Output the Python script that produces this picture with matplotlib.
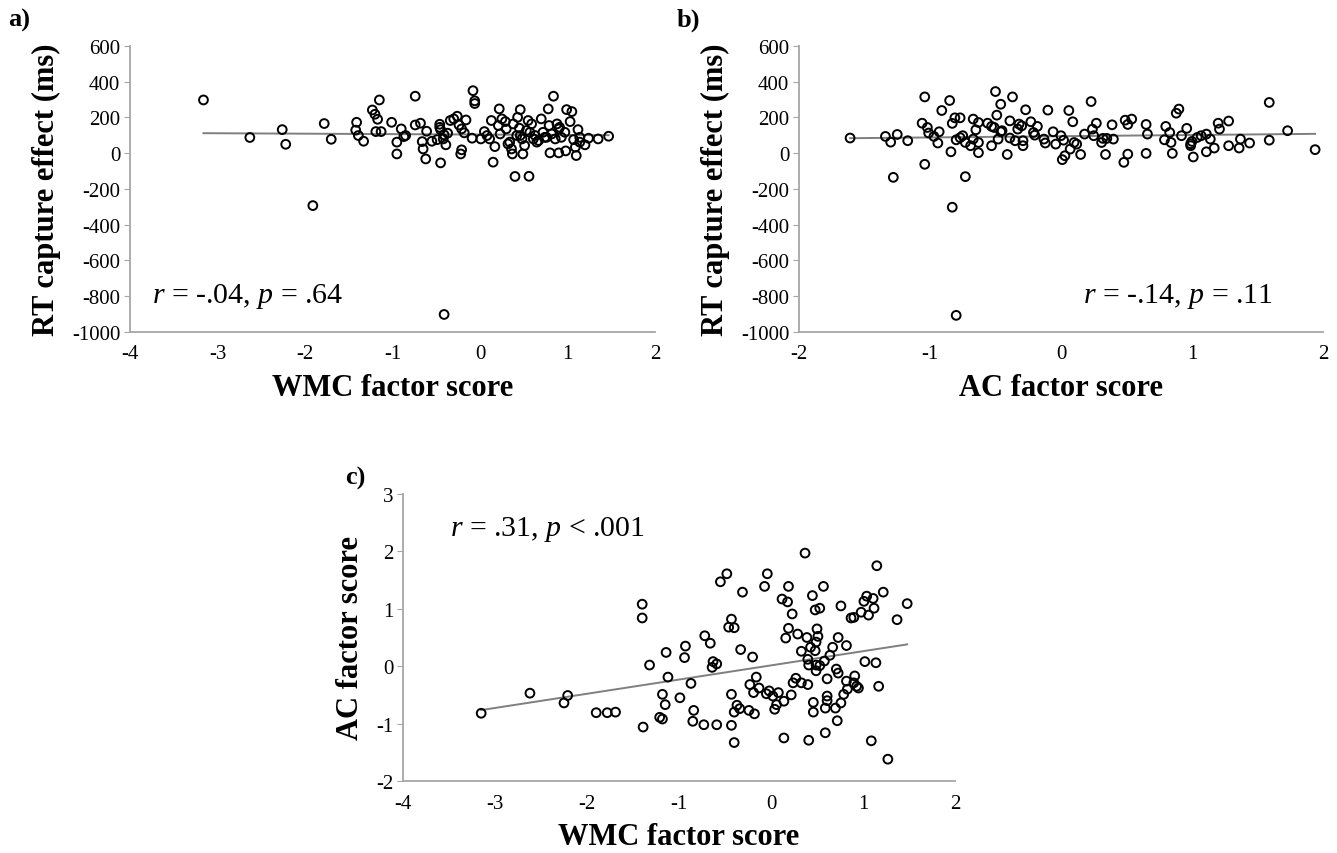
import numpy as np
import matplotlib
matplotlib.use("Agg")
import matplotlib.pyplot as plt

plt.rcParams['font.family'] = ['Liberation Serif', 'DejaVu Serif']
plt.rcParams['mathtext.fontset'] = 'custom'
plt.rcParams['mathtext.rm'] = 'Liberation Serif'
plt.rcParams['mathtext.it'] = 'Liberation Serif:italic'
plt.rcParams['axes.unicode_minus'] = False

# panel a: WMC factor score vs RT capture effect
wmc_a = [-3.16, -2.63, -2.26, -2.22, -1.91, -1.78, -1.70, -1.41, -1.42, -1.39,
         -1.33, -1.23, -1.20, -1.17, -1.15, -1.19, -1.13, -1.01, -0.95, -0.95,
         -0.90, -0.85, -0.87, -0.74, -0.74, -0.68, -0.61, -0.66, -0.65, -0.62,
         -0.55, -0.49, -0.46, -0.46, -0.45, -0.45, -0.42, -0.39, -0.41, -0.37,
         -0.34, -0.30, -0.26, -0.24, -0.21, -0.18, -0.16, -0.21, -0.22, -0.41,
         -0.08, -0.06, -0.06, -0.09, 0.01, 0.05, 0.08, 0.13, 0.15, 0.17,
         0.22, 0.21, 0.23, 0.25, 0.29, 0.30, 0.32, 0.36, 0.37, 0.40,
         0.38, 0.43, 0.46, 0.45, 0.46, 0.48, 0.49, 0.51, 0.55, 0.56,
         0.57, 0.59, 0.61, 0.65, 0.67, 0.70, 0.72, 0.74, 0.78, 0.79,
         0.80, 0.84, 0.86, 0.88, 0.90, 0.90, 0.93, 0.97, 0.98, 0.99,
         1.05, 1.03, 1.07, 1.09, 1.10, 1.12, 1.14, 1.20, 1.24, 1.35,
         1.47, 0.76, 0.63, 0.53, 0.42, 0.11, 0.34, 0.82, 0.91, 1.14]
rt_a = [298, 88, 132, 50, -293, 166, 78, 173, 129, 99,
        67, 242, 218, 190, 298, 121, 121, 173, 62, -4,
        136, 99, 93, 319, 158, 168, 123, 65, 24, -32,
        67, 76, 162, 145, 132, -54, 80, 47, 103, 112,
        183, 192, 207, 158, 136, 114, 186, 19, -4, -902,
        350, 293, 278, 84, 80, 121, 99, 183, -50, 37,
        248, 155, 108, 192, 177, 136, 52, 24, -4, -130,
        164, 201, 244, 140, 99, 80, -4, 43, 183, -129,
        117, 164, 80, 62, 71, 192, 117, 89, 248, 155,
        2, 319, 80, 164, 2, 136, 89, 117, 13, 244,
        233, 177, 76, 34, -13, 132, 62, 47, 84, 80,
        95, 89, 99, 127, 99, 80, 62, 108, 145, 89]

# panel b: AC factor score vs RT capture effect
ac_b = [-1.61, -1.34, -1.30, -1.25, -1.17, -1.28, -1.06, -1.04, -1.02, -1.01,
        -1.04, -0.97, -0.94, -0.93, -0.91, -0.85, -0.83, -0.84, -0.81, -0.77,
        -0.80, -0.77, -0.75, -0.73, -0.73, -0.83, -0.80, -0.69, -0.67, -0.67,
        -0.65, -0.63, -0.63, -0.63, -0.56, -0.53, -0.53, -0.51, -0.50, -0.49,
        -0.48, -0.46, -0.46, -0.45, -0.41, -0.39, -0.39, -0.37, -0.35, -0.33,
        -0.32, -0.30, -0.29, -0.29, -0.27, -0.23, -0.21, -0.20, -0.18, -0.13,
        -0.12, -0.10, -0.06, -0.04, 0.00, 0.02, 0.01, 0.03, 0.06, 0.07,
        0.09, 0.10, 0.12, 0.15, 0.18, 0.23, 0.24, 0.25, 0.27, 0.31,
        0.32, 0.34, 0.35, 0.39, 0.40, 0.48, 0.49, 0.51, 0.51, 0.54,
        0.65, 0.65, 0.66, 0.79, 0.80, 0.83, 0.84, 0.85, 0.88, 0.90,
        0.92, 0.96, 0.99, 1.00, 1.01, 1.04, 1.07, 1.11, 1.11, 1.14,
        1.17, 1.20, 1.21, 1.28, 1.28, 1.36, 1.37, 1.44, 1.59, 1.59,
        1.73, 1.94, 0.99]
rt_b = [85, 94, 62, 105, 70, -135, 168, 315, 144, 113,
        -62, 94, 57, 120, 239, 295, 167, 8, 198, 198,
        75, 87, 98, 60, -131, -302, -907, 42, 79, 191,
        131, 172, 60, 3, 168, 150, 42, 144, 345, 213,
        79, 120, 274, 126, -7, 181, 85, 315, 70, 135,
        163, 153, 42, 70, 243, 176, 116, 101, 150, 79,
        57, 241, 120, 51, 98, 73, -36, -14, 239, 23,
        176, 60, 51, -7, 107, 289, 135, 98, 168, 60,
        83, -7, 83, 159, 79, -51, 185, -5, 161, 191,
        -1, 161, 107, 75, 150, 116, 60, -1, 224, 247,
        98, 139, 42, 66, -21, 88, 98, 107, 8, 79,
        29, 168, 135, 180, 42, 29, 79, 57, 284, 73,
        126, 20, 53]

# panel c: WMC factor score vs AC factor score
wmc_c = [-3.15, -2.62, -2.25, -2.21, -1.90, -1.78, -1.69, -1.40, -1.40, -1.39,
         -1.32, -1.21, -1.18, -1.18, -1.15, -1.14, -1.12, -0.99, -0.94, -0.93,
         -0.87, -0.85, -0.84, -0.73, -0.72, -0.66, -0.64, -0.63, -0.59, -0.59,
         -0.55, -0.48, -0.46, -0.43, -0.40, -0.43, -0.43, -0.40, -0.40, -0.37,
         -0.34, -0.33, -0.31, -0.24, -0.23, -0.20, -0.19, -0.18, -0.16, -0.13,
         -0.07, -0.04, -0.05, -0.02, 0.02, 0.04, 0.06, 0.08, 0.14, 0.14,
         0.12, 0.18, 0.19, 0.19, 0.16, 0.23, 0.22, 0.24, 0.27, 0.29,
         0.33, 0.33, 0.37, 0.39, 0.40, 0.41, 0.40, 0.41, 0.43, 0.45,
         0.46, 0.46, 0.48, 0.48, 0.49, 0.50, 0.51, 0.49, 0.49, 0.53,
         0.53, 0.57, 0.58, 0.59, 0.59, 0.61, 0.61, 0.61, 0.64, 0.67,
         0.70, 0.71, 0.72, 0.73, 0.73, 0.76, 0.76, 0.79, 0.82, 0.82,
         0.83, 0.87, 0.90, 0.90, 0.91, 0.93, 0.95, 0.98, 1.01, 1.02,
         1.04, 1.06, 1.09, 1.11, 1.12, 1.14, 1.15, 1.17, 1.22, 1.27,
         1.37, 1.48]
ac_c = [-0.82, -0.47, -0.64, -0.51, -0.81, -0.81, -0.80, 1.08, 0.84, -1.06,
        0.02, -0.89, -0.92, -0.49, -0.67, 0.24, -0.19, -0.55, 0.15, 0.35,
        -0.30, -0.96, -0.77, -1.02, 0.53, 0.40, -0.02, 0.08, 0.04, -1.02,
        1.47, 1.61, 0.68, 0.82, 0.67, -0.49, -1.03, -1.33, -0.80, -0.68,
        -0.74, 0.29, 1.29, -0.77, -0.32, 0.16, -0.46, -0.83, -0.19, -0.38,
        1.39, 1.61, -0.48, -0.43, -0.52, -0.75, -0.67, -0.46, -0.61, -1.25,
        1.17, 1.12, 1.39, 0.66, 0.49, 0.91, -0.50, -0.29, -0.21, 0.56,
        0.26, -0.29, 1.97, 0.50, 0.12, 0.02, -0.32, -1.29, 0.33, 1.23,
        -0.80, -0.63, 0.98, 0.27, 0.42, 0.65, 0.52, 0.02, -0.08, 1.01,
        0.01, 1.39, 0.09, -1.16, -0.73, -0.22, -0.52, -0.60, 0.19, 0.33,
        -0.73, -0.05, -0.95, -0.12, 0.50, -0.64, 1.05, -0.49, 0.36, -0.26,
        -0.40, 0.84, 0.85, -0.29, -0.17, -0.35, -0.38, 0.94, 1.13, 0.08,
        1.22, 0.89, -1.30, 1.18, 1.01, 0.06, 1.75, -0.35, 1.29, -1.62,
        0.81, 1.09]

stats_a = r'$r$ = -.04, $p$ = .64'
stats_b = r'$r$ = -.14, $p$ = .11'
stats_c = r'$r$ = .31, $p$ < .001'

spine_col = '#a6a6a6'
line_col = '#7f7f7f'


def scatter_panel(ax, x, y, xlim, ylim, yticks, xlabel, ylabel):
    x = np.array(x)
    y = np.array(y)
    ax.scatter(x, y, s=40, facecolors='none', edgecolors='black',
               linewidths=1.4, zorder=3)
    # least squares trend line over the data range
    slope, icpt = np.polyfit(x, y, 1)
    xs = np.array([x.min(), x.max()])
    ax.plot(xs, slope * xs + icpt, color=line_col, lw=1.4, zorder=2)
    ax.set_xlim(*xlim)
    ax.set_ylim(*ylim)
    ax.set_xticks(np.arange(xlim[0], xlim[1] + 1, 1))
    ax.set_yticks(yticks)
    for s in ['top', 'right']:
        ax.spines[s].set_visible(False)
    for s in ['left', 'bottom']:
        ax.spines[s].set_color(spine_col)
        ax.spines[s].set_linewidth(1.3)
    ax.tick_params(axis='y', length=4, color=spine_col, labelsize=15, pad=3)
    ax.tick_params(axis='x', length=0, labelsize=15, pad=9)
    ax.set_xlabel(xlabel, fontsize=22, fontweight='bold', labelpad=7)
    ax.set_ylabel(ylabel, fontsize=22, fontweight='bold', labelpad=8)


fig = plt.figure(figsize=(13.37, 8.54), dpi=100)

ax_a = fig.add_axes([0.0972, 0.6101, 0.3927, 0.3349])
scatter_panel(ax_a, wmc_a, rt_a, (-4, 2), (-1000, 600),
              np.arange(-1000, 601, 200), 'WMC factor score',
              'RT capture effect (ms)')
ax_a.text(0.042, 0.126, stats_a, transform=ax_a.transAxes, fontsize=21.5,
          va='center', ha='left')

ax_b = fig.add_axes([0.5976, 0.6101, 0.3919, 0.3349])
scatter_panel(ax_b, ac_b, rt_b, (-2, 2), (-1000, 600),
              np.arange(-1000, 601, 200), 'AC factor score',
              'RT capture effect (ms)')
ax_b.text(0.905, 0.126, stats_b, transform=ax_b.transAxes, fontsize=21.5,
          va='center', ha='right')

ax_c = fig.add_axes([0.3014, 0.0843, 0.4129, 0.3361])
scatter_panel(ax_c, wmc_c, ac_c, (-4, 2), (-2, 3), np.arange(-2, 4, 1),
              'WMC factor score', 'AC factor score')
ax_c.text(0.085, 0.878, stats_c, transform=ax_c.transAxes, fontsize=21.5,
          va='center', ha='left')

fig.text(0.006, 0.976, 'a)', fontsize=19, fontweight='bold', va='center')
fig.text(0.506, 0.976, 'b)', fontsize=19, fontweight='bold', va='center')
fig.text(0.258, 0.44, 'c)', fontsize=19, fontweight='bold', va='center')

fig.savefig('out.png', dpi=100)
